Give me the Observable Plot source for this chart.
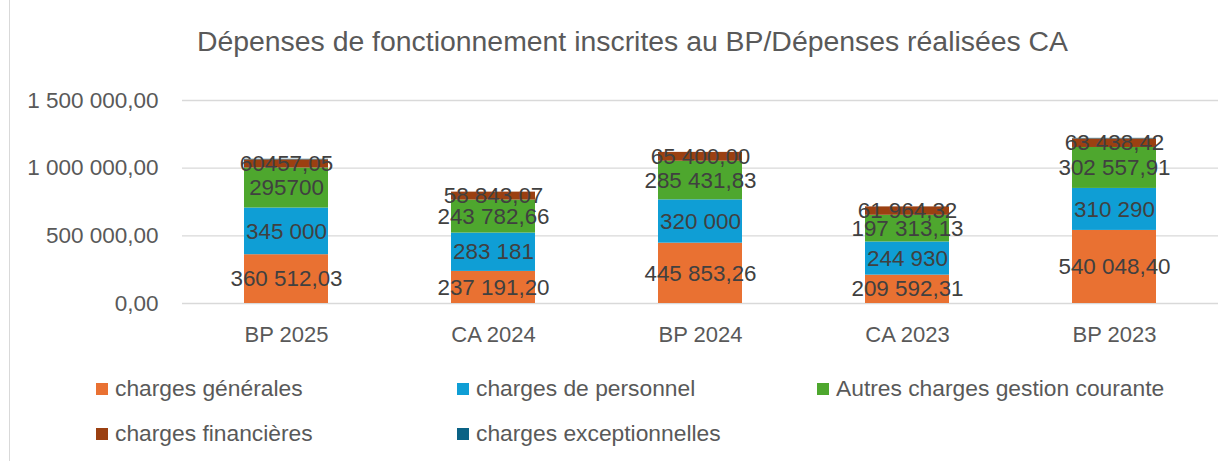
<!DOCTYPE html>
<html><head><meta charset="utf-8">
<script src="https://cdn.jsdelivr.net/npm/d3@7"></script>
<script src="https://cdn.jsdelivr.net/npm/@observablehq/plot@0.6"></script>
<style>
body{margin:0;width:1229px;height:461px;overflow:hidden;background:#fff;font-family:"Liberation Sans",Arial,sans-serif;position:relative}
#frame{position:absolute;left:9px;top:-2px;width:1240px;height:480px;border-left:1px solid #d9d9d9}
#title{position:absolute;left:0;top:25px;width:1265px;text-align:center;font-size:28.4px;color:#595959}
#chart{position:absolute;left:0;top:70px}
.leg{position:absolute;font-family:"Liberation Sans",Arial,sans-serif;font-size:22.8px;color:#595959;white-space:nowrap}
.leg span{display:inline-block;width:12px;height:12px;margin-right:7px;vertical-align:1px}
</style></head>
<body>
<div id="frame"></div>
<div id="title">Dépenses de fonctionnement inscrites au BP/Dépenses réalisées CA</div>
<div id="chart"></div>
<div id="legend"></div>
<script>
const categories = ["BP 2025", "CA 2024", "BP 2024", "CA 2023", "BP 2023"];
const seriesNames = ["charges générales", "charges de personnel", "Autres charges gestion courante", "charges financières", "charges exceptionnelles"];
const colors = ["#E97132", "#0F9ED5", "#4EA72E", "#9B4011", "#0A6285"];
const chargesGenerales = [360512.03, 237191.20, 445853.26, 209592.31, 540048.40];
const chargesPersonnel = [345000, 283181, 320000, 244930, 310290];
const autresCharges = [295700, 243782.66, 285431.83, 197313.13, 302557.91];
const chargesFinancieres = [60457.05, 58843.07, 65400.00, 61964.32, 63438.42];
const chargesExceptionnelles = [4000, 0, 0, 0, 4000];
const labelsGenerales = ["360 512,03", "237 191,20", "445 853,26", "209 592,31", "540 048,40"];
const labelsPersonnel = ["345 000", "283 181", "320 000", "244 930", "310 290"];
const labelsAutres = ["295700", "243 782,66", "285 431,83", "197 313,13", "302 557,91"];
const labelsFinancieres = ["60457,05", "58 843,07", "65 400,00", "61 964,32", "63 438,42"];
const yTicks = [0, 500000, 1000000, 1500000];

const seriesValues = [chargesGenerales, chargesPersonnel, autresCharges, chargesFinancieres, chargesExceptionnelles];
const seriesLabels = [labelsGenerales, labelsPersonnel, labelsAutres, labelsFinancieres, categories.map(() => "")];
const data = [];
seriesNames.forEach((s, i) => categories.forEach((c, j) => data.push({cat: c, series: s, value: seriesValues[i][j], label: seriesLabels[i][j]})));

const fr = d3.formatLocale({decimal: ",", thousands: " ", grouping: [3], currency: ["", " €"]});
const fmt = fr.format(",.2f");

const plot = Plot.plot({
  width: 1229, height: 290,
  marginLeft: 182, marginRight: 11, marginTop: 30, marginBottom: 57,
  style: {fontFamily: "Liberation Sans, Arial, sans-serif", fontSize: "22px", color: "#595959", background: "transparent"},
  x: {domain: categories, paddingInner: 0.595, paddingOuter: 0.2975, label: null},
  y: {domain: [0, 1500000], ticks: yTicks, label: null, tickFormat: fmt},
  color: {domain: seriesNames, range: colors},
  marks: [
    Plot.gridY(yTicks, {stroke: "#d9d9d9", strokeOpacity: 1, strokeWidth: 1.3}),
    Plot.axisY({ticks: yTicks, tickSize: 0, tickPadding: 24, tickFormat: fmt, fontSize: 22.5, fill: "#595959", label: null}),
    Plot.axisX({tickSize: 0, tickPadding: 23, fontSize: 22, fill: "#595959", label: null}),
    Plot.barY(data, {x: "cat", y: "value", fill: "series", z: "series"}),
    Plot.text(data, Plot.stackY({x: "cat", y: "value", z: "series", text: "label", fill: "#404040", fontSize: 22.4}))
  ]
});
document.getElementById("chart").appendChild(plot);

const legendPos = [[96, 375], [457, 375], [817, 375], [96, 420], [457, 420]];
const lg = document.getElementById("legend");
seriesNames.forEach((s, i) => {
  const d = document.createElement("div");
  d.className = "leg";
  d.style.left = legendPos[i][0] + "px";
  d.style.top = legendPos[i][1] + "px";
  d.innerHTML = `<span style="background:${colors[i]}"></span>${s}`;
  lg.appendChild(d);
});
</script>
</body></html>
